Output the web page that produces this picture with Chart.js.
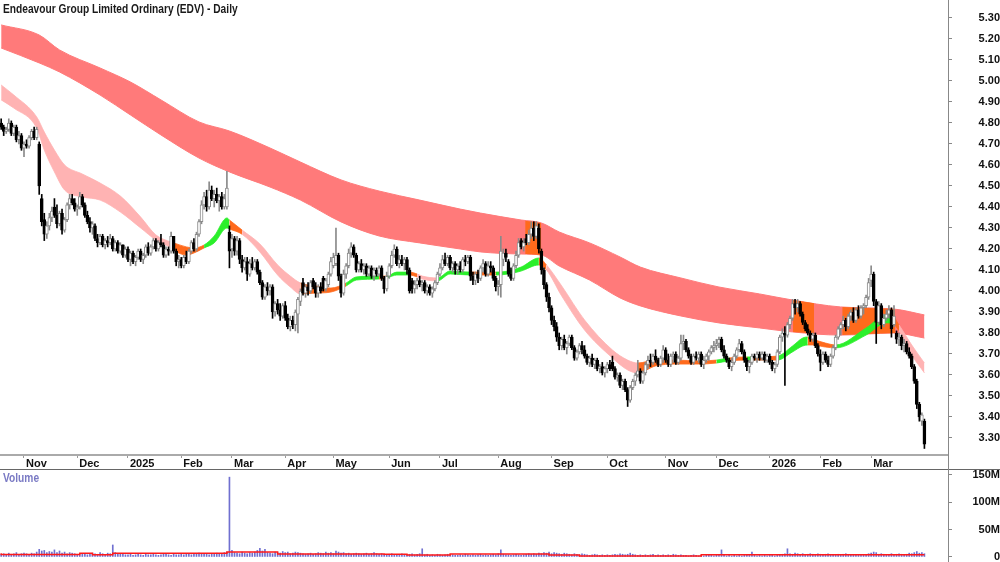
<!DOCTYPE html>
<html lang="en">
<head>
  <meta charset="UTF-8">
  <title>Endeavour Group Limited Ordinary (EDV) - Daily</title>
  <script src="https://cdn.jsdelivr.net/npm/chart.js"></script>
  <style>
    html, body { margin: 0; padding: 0; background: #fff; }
    .wrap { position: relative; width: 1000px; height: 562px; overflow: hidden; font-family: "Liberation Sans", Arial, sans-serif; }
    #priceChart { position: absolute; left: 0; top: 0; }
    #volumeChart { position: absolute; left: 0; top: 470px; }
    .title { position: absolute; left: 3px; top: 2px; font-weight: bold; font-size: 12px; color: #1a1a1a; transform: scaleX(0.85); transform-origin: left top; white-space: nowrap; }
    .vol-label { position: absolute; left: 3px; top: 471px; font-weight: bold; font-size: 12px; color: #7a7ac4; transform: scaleX(0.85); transform-origin: left top; }
    .hline { position: absolute; left: 0; top: 469px; width: 1000px; height: 1px; background: #666; }
    .vline { position: absolute; left: 948px; top: 0; width: 1px; height: 562px; background: #888; }
  </style>
</head>
<body>
<div class="wrap">
  <canvas id="priceChart" width="1000" height="470"></canvas>
  <canvas id="volumeChart" width="1000" height="92"></canvas>
  <div class="hline"></div>
  <div class="vline"></div>
  <div class="title">Endeavour Group Limited Ordinary (EDV) - Daily</div>
  <div class="vol-label">Volume</div>
</div>

<script>
  // month ticks (bar index of first trading day) and their labels
  const monthTickIdx = [9, 30, 50, 71, 91, 112, 131, 153, 173, 196, 217, 239, 262, 282, 303, 323, 343];
  const monthTickLabel = ['Nov', 'Dec', '2025', 'Feb', 'Mar', 'Apr', 'May', 'Jun', 'Jul', 'Aug', 'Sep', 'Oct', 'Nov', 'Dec', '2026', 'Feb', 'Mar'];
  const priceTicks = [3.30, 3.40, 3.50, 3.60, 3.70, 3.80, 3.90, 4.00, 4.10, 4.20, 4.30, 4.40, 4.50, 4.60, 4.70, 4.80, 4.90, 5.00, 5.10, 5.20, 5.30];
  const volumeTicks = [0, 50, 100, 150];

  // daily bars, 21 Oct 2024 .. 31 Mar 2026
  const opens = [
    4.80,4.78,4.76,4.77,4.80,4.75,4.78,4.72,4.74,4.68,
    4.70,4.69,4.73,4.76,4.73,4.70,4.44,4.34,4.27,4.31,
    4.35,4.40,4.36,4.32,4.37,4.29,4.34,4.41,4.44,4.42,
    4.39,4.40,4.45,4.41,4.36,4.33,4.30,4.31,4.25,4.23,
    4.26,4.22,4.24,4.23,4.25,4.20,4.23,4.19,4.22,4.17,
    4.20,4.15,4.18,4.14,4.16,4.19,4.15,4.17,4.21,4.18,
    4.21,4.24,4.20,4.23,4.22,4.17,4.20,4.19,4.26,4.19,
    4.14,4.15,4.12,4.16,4.14,4.19,4.23,4.20,4.27,4.33,
    4.41,4.45,4.40,4.48,4.44,4.46,4.43,4.45,4.40,4.40,
    4.28,4.20,4.25,4.19,4.24,4.15,4.11,4.14,4.08,4.13,
    4.11,4.14,4.09,4.04,3.97,4.02,4.00,4.02,3.90,3.94,
    3.91,3.88,3.93,3.87,3.83,3.86,3.84,3.89,3.95,4.04,
    3.99,4.02,4.00,4.05,4.02,3.99,4.02,4.06,4.01,4.03,
    4.08,4.12,4.13,4.17,4.07,3.99,4.08,4.12,4.18,4.21,
    4.17,4.10,4.13,4.10,4.12,4.08,4.11,4.07,4.10,4.08,
    4.11,4.06,4.01,4.07,4.12,4.17,4.20,4.13,4.15,4.13,
    4.15,4.10,4.05,4.01,4.03,4.05,4.03,4.04,4.00,4.02,
    3.99,4.01,4.04,4.08,4.11,4.15,4.13,4.16,4.11,4.13,
    4.10,4.12,4.10,4.15,4.14,4.16,4.07,4.05,4.08,4.06,
    4.11,4.13,4.08,4.12,4.11,4.06,4.02,4.03,4.15,4.18,
    4.14,4.08,4.06,4.12,4.17,4.24,4.21,4.25,4.23,4.27,
    4.30,4.26,4.30,4.19,4.10,4.03,3.97,3.92,3.86,3.83,
    3.78,3.74,3.77,3.73,3.75,3.78,3.73,3.68,3.71,3.74,
    3.72,3.69,3.66,3.68,3.65,3.67,3.63,3.64,3.61,3.63,
    3.65,3.66,3.63,3.59,3.60,3.55,3.57,3.53,3.48,3.54,
    3.57,3.60,3.62,3.57,3.61,3.65,3.67,3.66,3.69,3.67,
    3.65,3.68,3.72,3.67,3.65,3.69,3.70,3.66,3.68,3.75,
    3.76,3.72,3.69,3.66,3.69,3.68,3.70,3.65,3.67,3.69,
    3.71,3.73,3.74,3.75,3.77,3.72,3.69,3.67,3.64,3.66,
    3.69,3.72,3.75,3.71,3.67,3.64,3.66,3.69,3.68,3.70,
    3.68,3.70,3.67,3.69,3.66,3.63,3.65,3.71,3.78,3.80,
    3.79,3.84,3.87,3.94,3.92,3.94,3.89,3.85,3.82,3.80,
    3.77,3.79,3.74,3.70,3.66,3.70,3.67,3.65,3.69,3.73,
    3.78,3.82,3.84,3.86,3.83,3.88,3.90,3.86,3.91,3.88,
    3.92,3.93,3.97,4.05,4.08,3.95,3.85,3.93,3.84,3.87,
    3.89,3.91,3.84,3.80,3.77,3.78,3.74,3.75,3.71,3.69,
    3.64,3.57,3.46,3.38,3.38
  ];
  const highs = [
    4.82,4.79,4.78,4.82,4.81,4.79,4.79,4.76,4.75,4.71,
    4.72,4.74,4.77,4.78,4.78,4.71,4.46,4.37,4.33,4.37,
    4.40,4.44,4.41,4.38,4.39,4.35,4.42,4.46,4.46,4.44,
    4.41,4.47,4.46,4.42,4.38,4.35,4.33,4.32,4.27,4.27,
    4.27,4.25,4.26,4.27,4.26,4.24,4.24,4.23,4.22,4.21,
    4.21,4.19,4.19,4.17,4.20,4.20,4.18,4.22,4.23,4.22,
    4.25,4.25,4.24,4.27,4.23,4.21,4.21,4.28,4.26,4.20,
    4.17,4.16,4.17,4.19,4.20,4.24,4.25,4.28,4.34,4.43,
    4.47,4.48,4.52,4.50,4.48,4.49,4.46,4.47,4.46,4.57,
    4.31,4.27,4.26,4.26,4.25,4.17,4.16,4.16,4.15,4.16,
    4.15,4.15,4.10,4.05,4.03,4.04,4.03,4.03,3.95,3.96,
    3.94,3.94,3.95,3.89,3.88,3.88,3.91,3.97,4.01,4.06,
    4.03,4.04,4.05,4.06,4.04,4.03,4.04,4.07,4.06,4.09,
    4.16,4.18,4.30,4.18,4.08,4.10,4.13,4.20,4.23,4.22,
    4.18,4.14,4.15,4.13,4.13,4.12,4.12,4.11,4.11,4.12,
    4.12,4.07,4.09,4.13,4.19,4.22,4.21,4.17,4.17,4.16,
    4.16,4.11,4.06,4.05,4.06,4.07,4.05,4.05,4.03,4.03,
    4.02,4.05,4.09,4.13,4.17,4.18,4.17,4.17,4.14,4.14,
    4.13,4.14,4.16,4.17,4.17,4.17,4.09,4.09,4.10,4.12,
    4.15,4.14,4.14,4.14,4.12,4.07,4.05,4.26,4.20,4.20,
    4.15,4.11,4.13,4.19,4.25,4.25,4.25,4.27,4.29,4.33,
    4.33,4.33,4.32,4.20,4.11,4.04,3.99,3.93,3.88,3.85,
    3.80,3.78,3.79,3.76,3.79,3.79,3.74,3.72,3.75,3.76,
    3.74,3.70,3.69,3.70,3.68,3.68,3.65,3.66,3.64,3.66,
    3.67,3.69,3.64,3.61,3.61,3.58,3.58,3.54,3.55,3.58,
    3.61,3.67,3.63,3.62,3.66,3.69,3.70,3.70,3.72,3.68,
    3.69,3.74,3.73,3.70,3.70,3.71,3.71,3.69,3.79,3.79,
    3.77,3.73,3.70,3.70,3.71,3.71,3.71,3.69,3.70,3.72,
    3.74,3.76,3.77,3.78,3.78,3.74,3.70,3.68,3.68,3.70,
    3.73,3.77,3.76,3.72,3.68,3.67,3.70,3.70,3.71,3.71,
    3.71,3.71,3.70,3.70,3.67,3.66,3.72,3.79,3.82,3.83,
    3.85,3.88,3.96,3.96,3.96,3.95,3.90,3.86,3.84,3.81,
    3.80,3.80,3.75,3.72,3.71,3.71,3.69,3.70,3.74,3.79,
    3.83,3.85,3.88,3.87,3.89,3.91,3.92,3.92,3.93,3.93,
    3.94,3.98,4.06,4.12,4.09,3.96,3.95,3.94,3.89,3.91,
    3.93,3.92,3.93,3.81,3.80,3.79,3.77,3.76,3.73,3.70,
    3.65,3.58,3.47,3.42,3.39
  ];
  const lows = [
    4.77,4.74,4.75,4.76,4.74,4.74,4.71,4.70,4.67,4.64,
    4.68,4.68,4.72,4.72,4.72,4.46,4.31,4.24,4.25,4.29,
    4.33,4.35,4.30,4.31,4.27,4.28,4.33,4.39,4.41,4.38,
    4.36,4.39,4.40,4.35,4.32,4.28,4.27,4.24,4.21,4.22,
    4.21,4.20,4.21,4.22,4.19,4.19,4.18,4.18,4.16,4.16,
    4.14,4.12,4.13,4.12,4.15,4.14,4.13,4.16,4.17,4.17,
    4.20,4.19,4.19,4.21,4.16,4.16,4.17,4.18,4.18,4.12,
    4.11,4.11,4.11,4.13,4.13,4.18,4.19,4.19,4.26,4.32,
    4.39,4.38,4.39,4.43,4.40,4.42,4.38,4.39,4.39,4.39,
    4.11,4.16,4.17,4.17,4.13,4.09,4.10,4.05,4.07,4.10,
    4.10,4.08,4.03,3.96,3.96,3.98,3.98,3.87,3.88,3.89,
    3.86,3.87,3.86,3.82,3.81,3.82,3.81,3.80,3.93,3.98,
    3.97,3.98,3.99,4.01,3.97,3.97,3.99,4.00,4.00,4.02,
    4.07,4.11,4.12,4.05,3.97,3.98,4.06,4.11,4.16,4.16,
    4.09,4.09,4.09,4.08,4.07,4.07,4.06,4.05,4.07,4.07,
    4.05,3.99,4.00,4.06,4.11,4.16,4.12,4.11,4.12,4.10,
    4.08,3.99,3.99,3.99,4.01,4.02,4.00,3.99,3.98,3.98,
    3.97,4.00,4.03,4.07,4.10,4.12,4.12,4.10,4.09,4.08,
    4.08,4.09,4.09,4.12,4.13,4.05,4.03,4.03,4.04,4.05,
    4.09,4.07,4.07,4.09,4.05,4.00,3.98,3.97,4.12,4.14,
    4.07,4.05,4.05,4.11,4.16,4.20,4.19,4.22,4.22,4.25,
    4.24,4.25,4.18,4.08,4.01,3.95,3.90,3.84,3.81,3.76,
    3.72,3.72,3.72,3.70,3.74,3.72,3.67,3.67,3.70,3.70,
    3.68,3.65,3.64,3.64,3.63,3.62,3.61,3.60,3.59,3.61,
    3.62,3.62,3.58,3.57,3.54,3.53,3.52,3.45,3.47,3.53,
    3.55,3.59,3.56,3.56,3.60,3.63,3.64,3.65,3.66,3.64,
    3.64,3.66,3.66,3.64,3.64,3.66,3.65,3.65,3.67,3.72,
    3.71,3.68,3.65,3.65,3.67,3.66,3.64,3.63,3.66,3.67,
    3.70,3.71,3.72,3.73,3.71,3.68,3.66,3.63,3.62,3.65,
    3.68,3.71,3.70,3.66,3.62,3.61,3.65,3.67,3.66,3.67,
    3.67,3.66,3.66,3.65,3.62,3.61,3.64,3.70,3.76,3.55,
    3.78,3.82,3.86,3.89,3.90,3.88,3.84,3.81,3.79,3.76,
    3.76,3.73,3.69,3.62,3.65,3.66,3.64,3.64,3.68,3.72,
    3.77,3.79,3.82,3.81,3.82,3.86,3.85,3.85,3.87,3.87,
    3.89,3.92,3.96,4.02,3.93,3.75,3.84,3.82,3.83,3.86,
    3.87,3.78,3.83,3.75,3.74,3.72,3.71,3.70,3.68,3.63,
    3.56,3.44,3.38,3.36,3.25
  ];
  const closes = [
    4.78,4.76,4.77,4.80,4.75,4.78,4.72,4.74,4.68,4.70,
    4.69,4.73,4.76,4.73,4.77,4.50,4.33,4.27,4.31,4.35,
    4.38,4.36,4.32,4.37,4.29,4.34,4.41,4.44,4.42,4.39,
    4.40,4.45,4.41,4.36,4.33,4.30,4.32,4.25,4.23,4.26,
    4.22,4.24,4.23,4.25,4.20,4.23,4.19,4.22,4.17,4.20,
    4.15,4.18,4.14,4.16,4.19,4.15,4.17,4.21,4.18,4.21,
    4.24,4.20,4.23,4.22,4.17,4.20,4.19,4.26,4.19,4.14,
    4.15,4.12,4.16,4.14,4.19,4.23,4.20,4.27,4.33,4.41,
    4.45,4.40,4.48,4.44,4.46,4.43,4.45,4.40,4.44,4.49,
    4.19,4.25,4.19,4.24,4.15,4.11,4.14,4.08,4.13,4.11,
    4.14,4.09,4.04,3.97,4.02,4.00,4.02,3.90,3.94,3.91,
    3.88,3.93,3.87,3.83,3.86,3.84,3.90,3.96,4.00,3.99,
    4.02,4.00,4.04,4.02,3.99,4.02,4.00,4.01,4.05,4.08,
    4.14,4.16,4.17,4.07,3.99,4.08,4.12,4.18,4.21,4.17,
    4.10,4.13,4.10,4.12,4.08,4.11,4.07,4.10,4.08,4.11,
    4.06,4.01,4.07,4.12,4.17,4.20,4.13,4.15,4.13,4.15,
    4.10,4.00,4.01,4.03,4.05,4.03,4.04,4.00,4.02,3.99,
    4.01,4.04,4.08,4.11,4.15,4.13,4.16,4.11,4.13,4.10,
    4.12,4.10,4.15,4.14,4.16,4.07,4.05,4.08,4.06,4.11,
    4.13,4.08,4.12,4.11,4.06,4.02,4.03,4.19,4.18,4.16,
    4.08,4.06,4.12,4.17,4.23,4.21,4.23,4.23,4.27,4.30,
    4.26,4.31,4.20,4.10,4.03,3.97,3.92,3.86,3.83,3.78,
    3.74,3.77,3.73,3.75,3.78,3.73,3.68,3.71,3.74,3.72,
    3.69,3.66,3.68,3.65,3.67,3.63,3.64,3.61,3.63,3.65,
    3.63,3.63,3.59,3.60,3.55,3.57,3.53,3.48,3.54,3.57,
    3.60,3.62,3.57,3.61,3.65,3.67,3.66,3.69,3.67,3.65,
    3.68,3.72,3.67,3.65,3.69,3.70,3.66,3.68,3.75,3.76,
    3.72,3.69,3.66,3.69,3.68,3.70,3.65,3.67,3.69,3.71,
    3.73,3.74,3.75,3.77,3.72,3.69,3.67,3.64,3.66,3.69,
    3.72,3.75,3.71,3.67,3.64,3.66,3.69,3.68,3.70,3.68,
    3.70,3.67,3.69,3.66,3.63,3.65,3.71,3.78,3.80,3.79,
    3.84,3.87,3.94,3.92,3.94,3.89,3.85,3.82,3.80,3.77,
    3.79,3.74,3.70,3.66,3.70,3.67,3.65,3.69,3.73,3.78,
    3.82,3.84,3.86,3.83,3.88,3.90,3.86,3.91,3.88,3.92,
    3.93,3.97,4.04,4.08,3.95,3.85,3.93,3.84,3.87,3.89,
    3.91,3.82,3.88,3.77,3.78,3.74,3.75,3.71,3.69,3.64,
    3.57,3.46,3.40,3.41,3.27
  ];
  // daily volume, millions of shares
  const volumes = [
    5,6,4,7,5,6,8,5,6,7,  6,5,7,6,9,14,11,12,8,10,  9,13,8,11,7,9,6,8,7,6,
    5,4,6,5,4,5,7,6,5,8,  6,5,7,6,22,8,6,5,6,4,  4,5,3,4,5,4,3,5,4,4,
    5,4,3,4,5,6,4,3,5,4,  4,5,4,6,5,4,5,6,7,5,  6,5,4,6,5,7,6,5,8,9,
    146,12,8,7,6,9,7,6,8,7,  9,12,16,11,14,8,7,6,9,8,  7,10,8,9,6,7,9,8,7,6,
    5,6,7,5,6,8,7,6,9,7,  8,6,11,9,7,8,6,7,5,6,  7,6,5,6,7,5,6,8,6,5,
    6,5,4,5,6,4,5,4,6,5,  4,5,6,4,5,6,15,4,5,3,  4,3,5,4,3,4,5,3,4,3,
    3,4,3,5,4,3,4,3,4,5,  3,4,3,4,5,4,6,13,5,4,  4,3,4,5,4,3,4,5,6,5,
    6,5,7,6,8,7,9,6,8,7,  6,5,7,6,5,4,6,5,4,6,  5,4,3,4,5,4,3,4,3,4,
    3,4,5,4,6,5,4,5,7,5,  4,3,4,3,4,3,4,5,3,4,  3,4,3,4,3,5,4,3,4,3,
    3,2,3,4,3,2,3,2,3,4,  3,2,3,4,13,3,2,3,2,3,  2,3,2,3,4,3,9,3,2,3,
    2,3,2,3,3,2,4,3,5,6,  15,6,5,7,6,5,6,4,5,6,  5,4,6,5,4,5,6,4,5,4,
    5,4,5,6,4,5,4,5,4,5,  4,5,6,7,9,8,5,6,5,4,  5,6,4,5,6,5,4,5,7,6,
    8,10,7,8,6
  ];
  const volAvgIdx = [0, 31, 36, 44, 89, 109, 151, 160, 177, 216, 228, 276, 310, 364];
  const volAvg = [7, 4.5, 7, 4, 7, 9, 5.5, 5, 3.5, 5.5, 3.5, 2, 4, 4];

  // long-term band (upper / lower edge)
  const longIdx = [0, 15, 23, 39, 51, 63, 78, 90, 106, 118, 134, 149, 165, 181, 189, 205, 213, 220, 232, 244, 252, 268, 283, 299, 312, 331, 352, 364];
  const longTop = [5.267, 5.219, 5.148, 5.062, 4.995, 4.910, 4.805, 4.762, 4.681, 4.614, 4.529, 4.476, 4.433, 4.390, 4.371, 4.338, 4.324, 4.281, 4.229, 4.162, 4.114, 4.062, 4.019, 3.986, 3.957, 3.924, 3.914, 3.886];
  const longBot = [5.157, 5.086, 5.043, 4.933, 4.838, 4.743, 4.633, 4.567, 4.495, 4.433, 4.329, 4.262, 4.229, 4.200, 4.186, 4.176, 4.171, 4.119, 4.052, 3.967, 3.929, 3.881, 3.848, 3.824, 3.805, 3.790, 3.800, 3.776];

  // periods where price sits inside the long-term band
  const zoneStart = [206.6, 312.2, 331.6];
  const zoneEnd = [212.9, 320.5, 352.5];
  const zoneTopStart = [4.335, 3.957, 3.924];
  const zoneTopEnd = [4.324, 3.942, 3.914];
  const zoneBotStart = [4.176, 3.805, 3.790];
  const zoneBotEnd = [4.171, 3.797, 3.800];

  // short-term band (upper / lower edge) and its trend state after each point
  const shortIdx = [
    0, 5, 14, 17, 21, 25, 32, 39, 47, 55,
    61, 67, 68, 73, 76, 80, 84, 89, 90, 95,
    102, 109, 114, 118, 124, 130, 136, 140, 149, 152,
    156, 161, 164, 166, 172, 177, 185, 190, 195, 200,
    205, 212, 215, 221, 230, 241, 247, 251, 258, 266,
    275, 282, 287, 294, 296, 306, 312, 316, 318, 320,
    325, 329, 341, 349, 351, 354, 359, 364
  ];
  const shortTop = [
    4.981, 4.933, 4.829, 4.757, 4.671, 4.600, 4.557, 4.514, 4.452, 4.352,
    4.267, 4.233, 4.229, 4.210, 4.205, 4.219, 4.262, 4.348, 4.338, 4.290,
    4.224, 4.124, 4.071, 4.038, 4.024, 4.014, 4.038, 4.067, 4.071, 4.071,
    4.090, 4.090, 4.081, 4.071, 4.062, 4.095, 4.090, 4.090, 4.090, 4.095,
    4.114, 4.157, 4.124, 4.024, 3.862, 3.719, 3.671, 3.657, 3.671, 3.671,
    3.667, 3.671, 3.681, 3.686, 3.686, 3.690, 3.738, 3.776, 3.781, 3.771,
    3.752, 3.743, 3.824, 3.886, 3.886, 3.838, 3.743, 3.657
  ];
  const shortBot = [
    4.910, 4.871, 4.776, 4.671, 4.567, 4.481, 4.448, 4.433, 4.376, 4.300,
    4.243, 4.205, 4.195, 4.171, 4.181, 4.205, 4.229, 4.300, 4.295, 4.270,
    4.186, 4.076, 4.019, 3.986, 3.990, 3.995, 4.024, 4.052, 4.057, 4.062,
    4.076, 4.076, 4.067, 4.057, 4.048, 4.081, 4.076, 4.076, 4.076, 4.081,
    4.095, 4.124, 4.100, 3.976, 3.814, 3.681, 3.624, 3.610, 3.643, 3.652,
    3.652, 3.657, 3.667, 3.671, 3.671, 3.671, 3.710, 3.738, 3.743, 3.743,
    3.733, 3.729, 3.790, 3.848, 3.848, 3.810, 3.695, 3.610
  ];
  const shortState = [
    'down', 'down', 'down', 'down', 'down', 'down', 'down', 'down', 'down', 'down',
    'down', 'down', 'flat', 'flat', 'flat', 'up', 'up', 'up', 'flat', 'down',
    'down', 'down', 'down', 'flat', 'flat', 'flat', 'up', 'up', 'flat', 'up',
    'up', 'flat', 'down', 'down', 'up', 'up', 'flat', 'flat', 'up', 'up',
    'up', 'flat', 'down', 'down', 'down', 'down', 'down', 'flat', 'flat', 'flat',
    'flat', 'up', 'flat', 'up', 'flat', 'up', 'up', 'up', 'flat', 'flat',
    'flat', 'up', 'up', 'up', 'flat', 'down', 'down', 'down'
  ];

  const trendColor = { down: '#ffb3b3', flat: '#ff6a1c', up: '#2bef2b' };
  const LONG_COLOR = '#ff7a7a';
  const ZONE_COLOR = '#ff6a1c';
  const UP_EDGE = '#8a8a8a';
  const FONT = '"Liberation Sans", Arial, sans-serif';

  Chart.defaults.font.family = FONT;
  Chart.defaults.color = '#111';

  const xMin = -0.46, xMax = 373.3;
  const yMin = 3.219, yMax = 5.3857;

  const isUp = i => closes[i] >= opens[i];
  const pts = (xs, ys) => xs.map((x, k) => ({ x: x, y: ys[k] }));
  // fixed right axis width, and no extra vertical room for the end labels
  const fitRightAxis = s => { s.width = 52; s.paddingTop = 0; s.paddingBottom = 0; };

  const datasets = [];

  // long-term band
  datasets.push({
    type: 'line', data: pts(longIdx, longTop), order: 9,
    borderColor: LONG_COLOR, borderWidth: 1, backgroundColor: LONG_COLOR,
    fill: '+1', pointRadius: 0, cubicInterpolationMode: 'monotone'
  });
  datasets.push({
    type: 'line', data: pts(longIdx, longBot), order: 9,
    borderColor: LONG_COLOR, borderWidth: 1, fill: false,
    pointRadius: 0, cubicInterpolationMode: 'monotone'
  });

  // orange zones over the long band
  zoneStart.forEach((s, k) => {
    datasets.push({
      type: 'line', order: 8,
      data: [{ x: s, y: zoneTopStart[k] }, { x: zoneEnd[k], y: zoneTopEnd[k] }],
      borderWidth: 0, backgroundColor: ZONE_COLOR, fill: '+1', pointRadius: 0
    });
    datasets.push({
      type: 'line', order: 8,
      data: [{ x: s, y: zoneBotStart[k] }, { x: zoneEnd[k], y: zoneBotEnd[k] }],
      borderWidth: 0, fill: false, pointRadius: 0
    });
  });

  // short-term band, coloured by trend state
  const segColor = ctx => trendColor[shortState[ctx.p0DataIndex]];
  datasets.push({
    type: 'line', data: pts(shortIdx, shortTop), order: 7,
    borderWidth: 0.8, fill: '+1', pointRadius: 0, cubicInterpolationMode: 'monotone',
    borderColor: trendColor.down, backgroundColor: trendColor.down,
    segment: { borderColor: segColor, backgroundColor: segColor }
  });
  datasets.push({
    type: 'line', data: pts(shortIdx, shortBot), order: 7,
    borderWidth: 0.8, fill: false, pointRadius: 0, cubicInterpolationMode: 'monotone',
    borderColor: trendColor.down,
    segment: { borderColor: segColor }
  });

  // candles: wicks then bodies
  datasets.push({
    type: 'bar', order: 2, grouped: false, barThickness: 1,
    data: closes.map((c, i) => ({ x: i, y: [lows[i], highs[i]] })),
    backgroundColor: ctx => isUp(ctx.dataIndex) ? UP_EDGE : '#000',
    borderWidth: 0
  });
  datasets.push({
    type: 'bar', order: 1, grouped: false, barThickness: 3, minBarLength: 1,
    data: closes.map((c, i) => ({ x: i, y: [opens[i], c] })),
    backgroundColor: ctx => isUp(ctx.dataIndex) ? '#fff' : '#000',
    borderColor: ctx => isUp(ctx.dataIndex) ? UP_EDGE : '#000',
    borderWidth: 1, borderSkipped: false
  });

  const axisFont = { family: FONT, size: 11, weight: 'bold' };

  new Chart(document.getElementById('priceChart'), {
    type: 'line',
    data: { datasets: datasets },
    options: {
      responsive: false,
      animation: false,
      layout: { padding: 0 },
      plugins: { legend: { display: false }, tooltip: { enabled: false } },
      scales: {
        x: {
          type: 'linear', min: xMin, max: xMax, offset: false,
          afterBuildTicks: s => { s.ticks = monthTickIdx.map(v => ({ value: v })); },
          afterFit: s => { s.height = 15; s.paddingLeft = 0; s.paddingRight = 0; },
          grid: { drawOnChartArea: false, drawTicks: true, tickLength: 3, color: '#999', offset: false },
          border: { display: true, color: '#aaa', width: 2 },
          ticks: {
            autoSkip: false, maxRotation: 0, align: 'start', labelOffset: 2, padding: -1,
            color: '#111', font: axisFont,
            callback: (v, i) => monthTickLabel[i]
          }
        },
        y: {
          type: 'linear', position: 'right', min: yMin, max: yMax,
          afterBuildTicks: s => { s.ticks = priceTicks.map(v => ({ value: v })); },
          afterFit: fitRightAxis,
          grid: { drawOnChartArea: false, drawTicks: true, tickLength: 4, color: '#888' },
          border: { display: false },
          ticks: {
            crossAlign: 'far', padding: 23, color: '#111', font: axisFont,
            callback: v => v.toFixed(2)
          }
        }
      }
    }
  });

  new Chart(document.getElementById('volumeChart'), {
    type: 'bar',
    data: {
      datasets: [
        {
          type: 'line', order: 0,
          data: pts(volAvgIdx, volAvg),
          stepped: 'after', borderColor: '#ff1a1a', borderWidth: 1.5, pointRadius: 0, fill: false
        },
        {
          type: 'bar', order: 1, grouped: false, barThickness: 1,
          data: volumes.map((v, i) => ({ x: i, y: v })),
          backgroundColor: '#7070d0', borderWidth: 0
        }
      ]
    },
    options: {
      responsive: false,
      animation: false,
      layout: { padding: 0 },
      plugins: { legend: { display: false }, tooltip: { enabled: false } },
      scales: {
        x: { type: 'linear', min: xMin, max: xMax, offset: false, display: false, grid: { offset: false } },
        y: {
          type: 'linear', position: 'right', min: -9.15, max: 159.1,
          afterBuildTicks: s => { s.ticks = volumeTicks.map(v => ({ value: v })); },
          afterFit: fitRightAxis,
          grid: { drawOnChartArea: false, drawTicks: true, tickLength: 4, color: '#888' },
          border: { display: false },
          ticks: {
            crossAlign: 'far', padding: 17, color: '#111', font: axisFont,
            callback: v => v === 0 ? '0' : v + 'M'
          }
        }
      }
    }
  });
</script>
</body>
</html>
